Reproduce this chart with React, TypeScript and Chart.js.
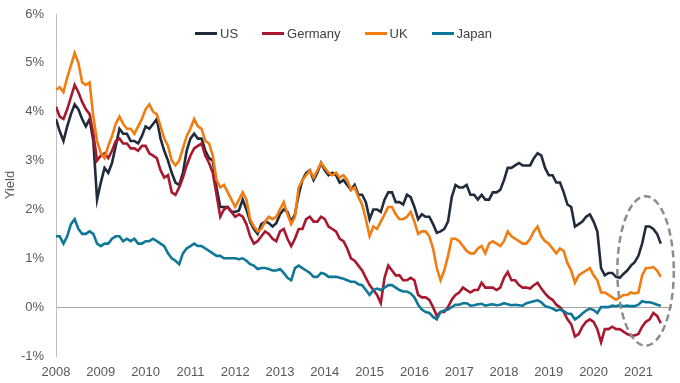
import React, { useEffect, useRef } from "react";
import { Chart, registerables } from "chart.js";

Chart.register(...registerables);

// Monthly points, Jan 2008 .. Jul 2021
const START_YEAR = 2008;
const YEAR_TICKS = [2008, 2009, 2010, 2011, 2012, 2013, 2014, 2015, 2016, 2017, 2018, 2019, 2020, 2021];
const Y_TICKS = [-1, 0, 1, 2, 3, 4, 5, 6];

const US = [
  3.85, 3.6, 3.4, 3.7, 3.95, 4.15, 4.05, 3.85, 3.7, 3.85, 3.4, 2.2,
  2.55, 2.85, 2.75, 2.95, 3.3, 3.65, 3.55, 3.55, 3.4, 3.4, 3.35, 3.5,
  3.7, 3.65, 3.75, 3.85, 3.45, 3.2, 3.0, 2.75, 2.55, 2.5, 2.75, 3.2,
  3.45, 3.55, 3.45, 3.45, 3.2, 3.05, 3.0, 2.45, 2.05, 2.05, 2.05, 1.95,
  1.95, 1.98, 2.2, 2.0, 1.75, 1.6, 1.5, 1.7, 1.75, 1.72, 1.65, 1.72,
  1.9, 2.0, 1.95, 1.75, 1.9, 2.3, 2.6, 2.75, 2.8, 2.6, 2.75, 2.95,
  2.8, 2.7, 2.75, 2.7, 2.55, 2.6, 2.5, 2.4, 2.5, 2.3, 2.3, 2.15,
  1.8, 2.0, 2.0, 1.95, 2.2, 2.35, 2.35, 2.15, 2.15, 2.1, 2.3, 2.25,
  2.05, 1.8, 1.9, 1.85, 1.85, 1.7, 1.52, 1.55, 1.6, 1.75, 2.25, 2.5,
  2.45, 2.45, 2.5, 2.3, 2.3, 2.2, 2.3, 2.2, 2.2, 2.35, 2.35, 2.4,
  2.6, 2.85, 2.85, 2.9, 2.95, 2.9, 2.9, 2.9, 3.05, 3.15, 3.1, 2.85,
  2.7, 2.7, 2.55, 2.55, 2.35, 2.1, 2.05, 1.65, 1.7, 1.75, 1.85, 1.9,
  1.75, 1.55, 0.8, 0.65, 0.7, 0.7, 0.62, 0.6, 0.68, 0.75, 0.85, 0.92,
  1.05, 1.3, 1.65, 1.65, 1.6, 1.5, 1.3,
];

const GERMANY = [
  4.1, 3.9, 3.85, 4.05, 4.3, 4.55, 4.4, 4.2, 4.05, 3.95, 3.55, 3.0,
  3.1, 3.15, 3.05, 3.2, 3.4, 3.45, 3.35, 3.35, 3.25, 3.25, 3.2, 3.3,
  3.3, 3.15, 3.1, 3.05, 2.8, 2.65, 2.7, 2.35, 2.3, 2.45, 2.65, 2.9,
  3.1, 3.25, 3.3, 3.35, 3.1, 2.95, 2.75, 2.3, 1.85, 2.0, 2.05, 1.95,
  1.85, 1.9, 1.85, 1.7, 1.45, 1.3, 1.35, 1.45, 1.55, 1.5, 1.4, 1.35,
  1.55, 1.6, 1.4, 1.25, 1.4, 1.6, 1.6, 1.8, 1.85, 1.75, 1.75, 1.85,
  1.8, 1.65, 1.6, 1.55, 1.4, 1.35, 1.2, 1.0, 0.95, 0.85, 0.75, 0.6,
  0.45, 0.35, 0.25, 0.08, 0.6, 0.85, 0.75, 0.65, 0.65, 0.55, 0.55, 0.6,
  0.55, 0.25, 0.2, 0.2, 0.15, 0.0, -0.18, -0.1, -0.1, 0.0, 0.15, 0.25,
  0.3, 0.4, 0.35, 0.3, 0.35, 0.35, 0.5, 0.4, 0.4, 0.4, 0.35, 0.4,
  0.6, 0.72, 0.55, 0.55, 0.45, 0.4, 0.4, 0.38, 0.45, 0.5, 0.38, 0.28,
  0.2, 0.15, 0.05, 0.0, -0.1, -0.25, -0.35, -0.6, -0.55, -0.4, -0.3, -0.25,
  -0.3, -0.45, -0.72, -0.45, -0.45, -0.4, -0.45, -0.45, -0.5, -0.55, -0.58, -0.58,
  -0.55, -0.4, -0.3, -0.25, -0.12, -0.18, -0.33,
];

const UK = [
  4.45, 4.5, 4.4, 4.7, 4.95, 5.2, 5.0, 4.6, 4.55, 4.6, 3.9, 3.4,
  3.15, 3.05, 3.3, 3.5, 3.75, 3.9, 3.75, 3.65, 3.65, 3.55, 3.7, 3.85,
  4.05, 4.15, 4.0, 3.95, 3.7, 3.45, 3.3, 3.0, 2.9, 3.0, 3.25, 3.5,
  3.65, 3.85, 3.7, 3.65, 3.4, 3.35, 3.1, 2.6, 2.45, 2.5, 2.35, 2.2,
  2.05, 2.2, 2.35, 2.2, 1.8, 1.65, 1.55, 1.6, 1.75, 1.85, 1.8, 1.85,
  2.0, 2.15, 1.9, 1.7, 1.85, 2.45, 2.6, 2.7, 2.8, 2.65, 2.8, 2.95,
  2.85, 2.75, 2.7, 2.75, 2.65, 2.7, 2.6, 2.4, 2.45, 2.25, 2.1, 1.8,
  1.45, 1.65, 1.6, 1.75, 1.9, 2.05, 2.05, 1.9, 1.8, 1.8, 1.85, 1.95,
  1.75, 1.5, 1.55, 1.55, 1.45, 1.2, 0.8, 0.55, 0.75, 1.05, 1.4, 1.4,
  1.35, 1.25, 1.15, 1.1, 1.1, 1.2, 1.25, 1.1, 1.3, 1.35, 1.3, 1.25,
  1.35, 1.55, 1.45, 1.4, 1.35, 1.3, 1.3, 1.4, 1.55, 1.65, 1.45, 1.35,
  1.3, 1.2, 1.1, 1.2, 1.15, 0.9, 0.75, 0.5, 0.65, 0.7, 0.75, 0.8,
  0.65, 0.55, 0.3, 0.3, 0.25, 0.2, 0.15, 0.2, 0.25, 0.25, 0.3, 0.28,
  0.3, 0.65, 0.8, 0.8, 0.82, 0.75, 0.62,
];

const JAPAN = [
  1.45, 1.45, 1.3, 1.45, 1.7, 1.8, 1.6, 1.5, 1.5, 1.55, 1.5, 1.3,
  1.25, 1.3, 1.3, 1.4, 1.45, 1.45, 1.35, 1.4, 1.35, 1.4, 1.3, 1.3,
  1.35, 1.35, 1.4, 1.35, 1.3, 1.25, 1.1, 1.0, 0.95, 0.88, 1.1, 1.2,
  1.25, 1.3, 1.25, 1.25, 1.2, 1.15, 1.1, 1.05, 1.05, 1.0, 1.0, 1.0,
  1.0, 0.98, 1.0, 0.95, 0.88, 0.85, 0.78, 0.8, 0.8, 0.78, 0.75, 0.75,
  0.78, 0.7, 0.6, 0.55, 0.8, 0.85, 0.8, 0.75, 0.7, 0.62, 0.62, 0.7,
  0.68, 0.62, 0.62, 0.62, 0.6, 0.58, 0.55, 0.52, 0.52, 0.47, 0.45, 0.35,
  0.25, 0.35, 0.38, 0.35, 0.4, 0.45, 0.45, 0.4, 0.35, 0.32, 0.32, 0.28,
  0.2, 0.05, -0.05, -0.1, -0.12, -0.2, -0.25, -0.1, -0.07, -0.05, 0.0, 0.05,
  0.05, 0.08, 0.08, 0.03, 0.04, 0.06, 0.07, 0.03, 0.05, 0.06, 0.04, 0.05,
  0.08, 0.06, 0.04, 0.05, 0.04, 0.03, 0.08, 0.1, 0.12, 0.14, 0.1, 0.02,
  0.0, -0.03, -0.07, -0.05, -0.08, -0.13, -0.14, -0.25, -0.2, -0.13, -0.07, -0.03,
  -0.06, -0.12, 0.0, 0.0, 0.0, 0.03, 0.02, 0.04, 0.02, 0.03, 0.02, 0.02,
  0.05, 0.12, 0.1, 0.1, 0.08, 0.05, 0.03,
];

const SERIES_NAMES = ["US", "Germany", "UK", "Japan"];
const SERIES_COLORS = ["#202B3C", "#A8182F", "#F07C12", "#0F7797"];

// highlight ellipse (data units)
const ELLIPSE_CENTER_X = 2021.16;
const ELLIPSE_CENTER_Y = 0.74;
const ELLIPSE_RX_YEARS = 0.63;
const ELLIPSE_RY_PCT = 1.53;

const FONT = "'Liberation Sans', Arial, Helvetica, sans-serif";
const TEXT_COLOR = "#595959";

function toPoints(values: number[]) {
  return values.map((v, i) => ({ x: START_YEAR + i / 12, y: v }));
}

const ellipsePlugin = {
  id: "highlightEllipse",
  afterDatasetsDraw(chart: any) {
    const xs = chart.scales.x;
    const ys = chart.scales.y;
    const cx = xs.getPixelForValue(ELLIPSE_CENTER_X);
    const cy = ys.getPixelForValue(ELLIPSE_CENTER_Y);
    const rx = Math.abs(xs.getPixelForValue(ELLIPSE_CENTER_X + ELLIPSE_RX_YEARS) - cx);
    const ry = Math.abs(ys.getPixelForValue(ELLIPSE_CENTER_Y + ELLIPSE_RY_PCT) - cy);
    const ctx = chart.ctx;
    ctx.save();
    ctx.beginPath();
    ctx.setLineDash([7, 4]);
    ctx.lineWidth = 2.5;
    ctx.strokeStyle = "#8C8C8C";
    ctx.ellipse(cx, cy, rx, ry, 0, 0, Math.PI * 2);
    ctx.stroke();
    ctx.restore();
  },
};

export default function App() {
  const canvasRef = useRef<HTMLCanvasElement | null>(null);

  useEffect(() => {
    document.body.style.margin = "0";
    const canvas = canvasRef.current;
    if (!canvas) return;
    const allSeries = [US, GERMANY, UK, JAPAN];
    const chart = new Chart(canvas, {
      type: "line",
      data: {
        datasets: allSeries.map((vals, i) => ({
          label: SERIES_NAMES[i],
          data: toPoints(vals),
          borderColor: SERIES_COLORS[i],
          backgroundColor: SERIES_COLORS[i],
          borderWidth: 2.6,
          pointRadius: 0,
          tension: 0,
          fill: false,
          order: 3 - i,
        })),
      },
      options: {
        animation: false,
        responsive: false,
        maintainAspectRatio: false,
        layout: { padding: { top: 14, right: 8, bottom: 0, left: 0 } },
        plugins: {
          legend: { display: false },
          tooltip: { enabled: false },
        },
        scales: {
          x: {
            type: "linear",
            min: 2008,
            max: 2021.75,
            grid: { display: false, drawTicks: false },
            border: { display: false },
            afterBuildTicks: (scale: any) => {
              scale.ticks = YEAR_TICKS.map((v) => ({ value: v }));
            },
            afterFit: (scale: any) => {
              scale.height = 27;
            },
            ticks: {
              autoSkip: false,
              maxRotation: 0,
              padding: 9,
              color: TEXT_COLOR,
              font: { family: FONT, size: 13 },
              callback: (v: any) => String(v),
            },
          },
          y: {
            min: -1,
            max: 6,
            afterBuildTicks: (scale: any) => {
              scale.ticks = Y_TICKS.map((v) => ({ value: v }));
            },
            afterFit: (scale: any) => {
              scale.width = 56;
              scale.paddingTop = 0;
              scale.paddingBottom = 0;
            },
            border: { display: true, color: "#BFBFBF", width: 1 },
            grid: {
              drawTicks: false,
              color: (ctx: any) => (ctx.tick && ctx.tick.value === 0 ? "#A6A6A6" : "rgba(0,0,0,0)"),
              lineWidth: 1,
            },
            ticks: {
              padding: 12,
              color: TEXT_COLOR,
              font: { family: FONT, size: 13 },
              callback: (v: any) => `${v}%`,
            },
            title: {
              display: true,
              text: "Yield",
              color: TEXT_COLOR,
              font: { family: FONT, size: 13 },
              padding: { top: 3, bottom: 0 },
            },
          },
        },
      },
      plugins: [ellipsePlugin],
    });
    return () => chart.destroy();
  }, []);

  const legendItem = (i: number) => (
    <div key={i} style={{ display: "flex", alignItems: "center", marginRight: 24 }}>
      <div style={{ width: 22, height: 3, background: SERIES_COLORS[i], marginRight: 3 }} />
      <span>{SERIES_NAMES[i]}</span>
    </div>
  );

  return (
    <div style={{ position: "relative", width: 680, height: 383 }}>
      <canvas ref={canvasRef} width={680} height={383} style={{ display: "block" }} />
      <div
        style={{
          position: "absolute",
          left: 195,
          top: 24,
          height: 18,
          display: "flex",
          alignItems: "center",
          fontFamily: FONT,
          fontSize: 13,
          color: "#404040",
          whiteSpace: "nowrap",
        }}
      >
        {SERIES_NAMES.map((_, i) => legendItem(i))}
      </div>
    </div>
  );
}
